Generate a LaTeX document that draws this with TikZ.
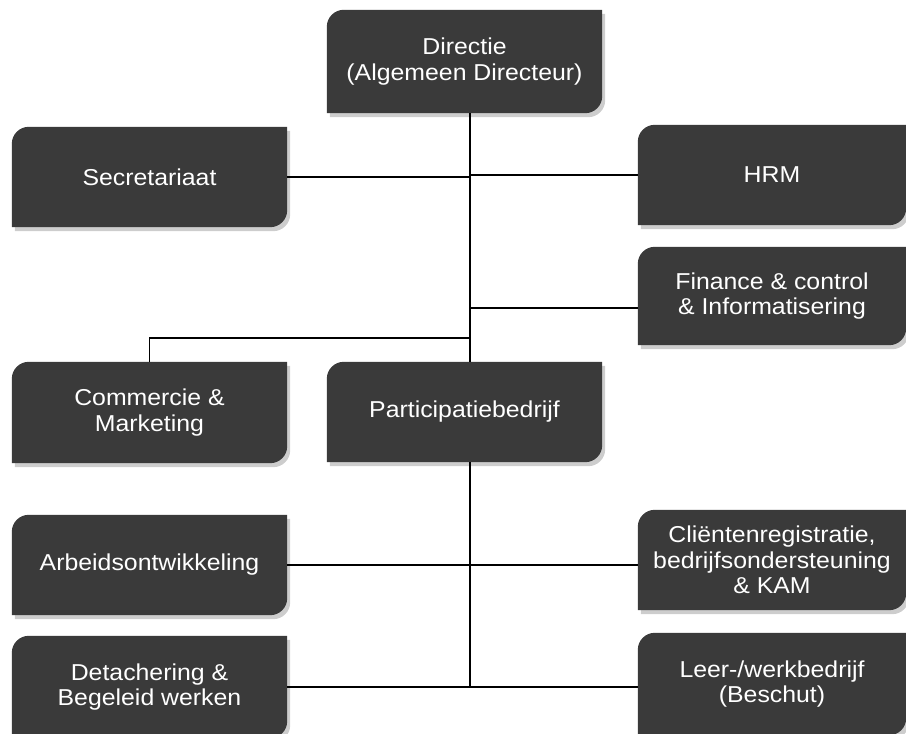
\documentclass[tikz,border=0pt]{standalone}
\usepackage{fontspec}
\setmainfont{Liberation Sans}[FakeStretch=1.08]
\usetikzlibrary{backgrounds,calc}
\definecolor{boxgray}{RGB}{58,58,58}
\definecolor{shadowgray}{RGB}{205,205,205}
\newcommand\orgshape[3]{% node, colour, offset
  \fill[#2] ([shift={#3}]#1.south west) -- ([shift={#3},yshift=-17pt]#1.north west)
    arc[start angle=180,end angle=90,radius=17pt] -- ([shift={#3}]#1.north east)
    -- ([shift={#3},yshift=17pt]#1.south east)
    arc[start angle=0,end angle=-90,radius=17pt] -- cycle;}
\begin{document}
\begin{tikzpicture}[x=1pt,y=1pt,
  orgbox/.style={minimum width=275pt,minimum height=100pt,inner sep=0pt,
    text=white,align=center,font={\fontsize{23}{25.5}\selectfont}},
  link/.style={draw=black,line width=1.2pt}]
\useasboundingbox (0,0) rectangle (906,734);
% boxes
\node[orgbox,minimum height=103pt] (dir) at (464.5,672.5) {Directie\\(Algemeen Directeur)};
\node[orgbox] (sec) at (149.5,557) {Secretariaat};
\node[orgbox,minimum width=268pt] (hrm) at (772,559) {HRM};
\node[orgbox,minimum width=268pt,minimum height=98pt] (fin) at (772,438) {Finance \& control\\\& Informatisering};
\node[orgbox,minimum height=101pt] (com) at (149.5,321.5) {Commercie \&\\Marketing};
\node[orgbox] (par) at (464.5,322) {Participatiebedrijf};
\node[orgbox] (arb) at (149.5,169) {Arbeidsontwikkeling};
\node[orgbox,minimum width=268pt] (cli) at (772,174) {Cliëntenregistratie,\\bedrijfsondersteuning\\\& KAM};
\node[orgbox,minimum height=102pt] (det) at (149.5,47) {Detachering \&\\Begeleid werken};
\node[orgbox,minimum width=268pt,minimum height=102pt] (lee) at (772,50) {Leer-/werkbedrijf\\(Beschut)};
% box backgrounds
\begin{scope}[on background layer]
  \foreach \n in {dir,sec,hrm,fin,com,par,arb,cli,det,lee}{
    \orgshape{\n}{shadowgray}{(3pt,-4pt)}
    \orgshape{\n}{boxgray}{(0pt,0pt)}}
\end{scope}
% connectors
\coordinate (ttop) at (470,0 |- dir.south);
\coordinate (tbot) at (470,0 |- par.north);
\coordinate (comjoin) at (470,396);
\coordinate (finjoin) at (470,426);
\coordinate (btop) at (470,0 |- par.south);
\coordinate (bbot) at (470,0 |- det.east);
\draw[link] (ttop) -- (tbot);
\draw[link] (sec.east) -- (sec.east -| ttop);
\draw[link] (hrm.west) -- (hrm.west -| ttop);
\draw[link] (finjoin) -- (finjoin -| fin.west);
\draw[link] (comjoin) -- (comjoin -| com.north) -- (com.north);
\draw[link] (btop) -- (bbot);
\draw[link] (arb.east) -- (arb.east -| cli.west);
\draw[link] (det.east) -- (det.east -| lee.west);
\end{tikzpicture}
\end{document}
